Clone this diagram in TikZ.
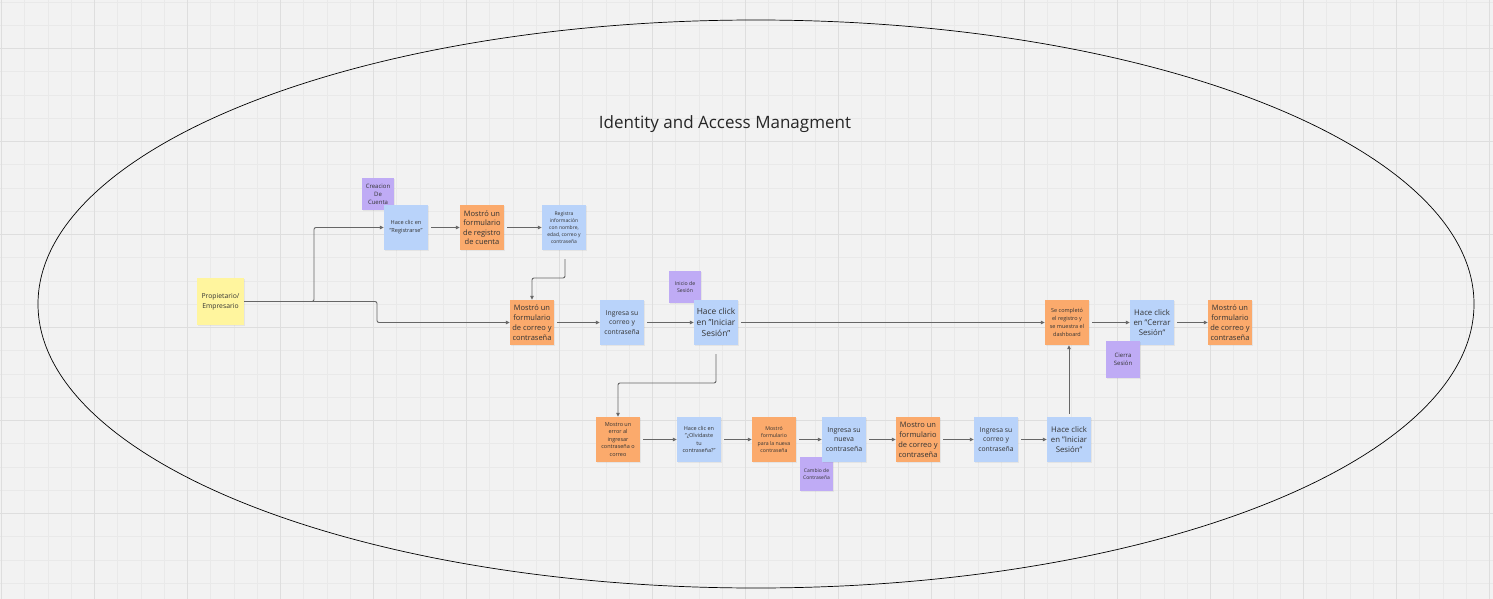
\documentclass[tikz,border=0pt]{standalone}
\usepackage{fontspec}
\setmainfont{Open Sans}
\usetikzlibrary{arrows.meta,shadows}
\definecolor{bgc}{HTML}{F2F2F2}
\definecolor{gmin}{HTML}{E9E9E9}
\definecolor{gmaj}{HTML}{DEDEDE}
\definecolor{sblue}{HTML}{B9D3FA}
\definecolor{sorange}{HTML}{FBAA6C}
\definecolor{syellow}{HTML}{FFF59E}
\definecolor{spurple}{HTML}{BFABF5}
\definecolor{txt}{HTML}{333333}
\definecolor{lnc}{HTML}{666666}
\tikzset{
  sticky/.style={minimum width=44pt, minimum height=45pt, inner sep=0pt, align=center, text=txt,
    drop shadow={opacity=0.12, shadow xshift=0.6pt, shadow yshift=-1.2pt}},
  bl/.style={sticky, fill=sblue},
  og/.style={sticky, fill=sorange},
  yl/.style={sticky, fill=syellow, minimum width=47pt, minimum height=47pt},
  pu/.style={sticky, fill=spurple, minimum width=32pt, minimum height=32pt},
  arr/.style={draw=lnc, line width=0.9pt, rounded corners=2pt, shorten <=3pt,
    -{Triangle[length=4pt,width=3.5pt]}},
}
\newcommand\fz[2]{\fontsize{#1}{#2}\selectfont}
\newcommand\dq{\symbol{34}}
\begin{document}
\begin{tikzpicture}[x=1pt,y=-1pt]
\useasboundingbox (0,0) rectangle (1493,599);
\fill[bgc] (0,0) rectangle (1493,599);
% grid
\foreach \i in {0,...,64} {
  \draw[gmin, line width=0.7pt] (1.5+\i*23.25,0) -- (1.5+\i*23.25,599);
}
\foreach \i in {0,...,26} {
  \draw[gmin, line width=0.7pt] (0,2+\i*23.25) -- (1493,2+\i*23.25);
}
\foreach \i in {0,...,16} {
  \draw[gmaj, line width=0.9pt] (1.5+\i*93,0) -- (1.5+\i*93,599);
}
\foreach \i in {0,...,6} {
  \draw[gmaj, line width=0.9pt] (0,48.5+\i*93) -- (1493,48.5+\i*93);
}
% boundary ellipse
\draw[black, line width=0.7pt] (756,304) ellipse [x radius=718, y radius=284];
\node[text=black!85, font=\fontsize{17}{20}\selectfont] (title) at (725,124) {Identity and Access Managment};

% top row
\node[pu, font=\fz{6}{8}] (pcrea) at (378,194) {Creacion\\De\\Cuenta};
\node[bl, font=\fz{5.6}{8}] (hreg) at (406,227.5) {Hace clic en\\\dq Registrarse\dq};
\node[og, font=\fz{7.5}{9.4}] (mreg) at (482,227.5) {Mostró un\\formulario\\de registro\\de cuenta};
\node[bl, font=\fz{5}{7}] (reg) at (564,227.5) {Registra\\información\\con nombre,\\edad, correo y\\contraseña};

% middle row
\node[yl, font=\fz{6.8}{9.7}] (prop) at (220.5,301.5) {Propietario/\\Empresario};
\node[og, font=\fz{7.5}{10}] (mf1) at (532,322.5) {Mostró un\\formulario\\de correo y\\contraseña};
\node[bl, font=\fz{6.8}{9.3}] (ing1) at (622,322.5) {Ingresa su\\correo y\\contraseña};
\node[pu, font=\fz{5.2}{7.7}] (pini) at (685,287) {Inicio de\\Sesión};
\node[bl, font=\fz{8.4}{10.7}] (hc1) at (716,322.5) {Hace click\\en \dq Iniciar\\Sesión\dq};
\node[og, font=\fz{5.5}{7.8}] (sc) at (1067,322.5) {Se completó\\el registro y\\se muestra el\\dashboard};
\node[bl, font=\fz{7.8}{10}] (cerr) at (1152,322.5) {Hace click\\en \dq Cerrar\\Sesión\dq};
\node[pu, font=\fz{6}{8.3}, minimum width=34pt, minimum height=37pt] (pcier) at (1123,359.5) {Cierra\\Sesión};
\node[og, font=\fz{7.5}{10}] (mf3) at (1230,322.5) {Mostró un\\formulario\\de correo y\\contraseña};

% bottom row
\node[og, font=\fz{5.5}{7.5}] (err) at (618,439.5) {Mostro un\\error al\\ingresar\\contraseña o\\correo};
\node[bl, font=\fz{5.5}{7.5}] (olv) at (699,439.5) {Hace clic en\\\dq¿Olvidaste\\tu\\contraseña?\dq};
\node[og, font=\fz{5.2}{7.5}] (mnc) at (774,439.5) {Mostró\\formulario\\para la nueva\\contraseña};
\node[pu, font=\fz{5}{6.7}, minimum width=33pt, minimum height=34pt] (pcamb) at (816.5,474) {Cambio de\\Contraseña};
\node[bl, font=\fz{7}{9.5}] (ingn) at (844,439.5) {Ingresa su\\nueva\\contraseña};
\node[og, font=\fz{7.5}{10}] (mf2) at (918,439.5) {Mostro un\\formulario\\de correo y\\contraseña};
\node[bl, font=\fz{6.8}{9.5}] (ing2) at (996,439.5) {Ingresa su\\correo y\\contraseña};
\node[bl, font=\fz{7.8}{10.3}] (hc2) at (1069,439.5) {Hace click\\en \dq Iniciar\\Sesión\dq};

% connectors
\coordinate (xa) at (314,0);
\coordinate (xb) at (377,0);
\draw[arr, shorten <=0pt] (prop.east) -- (prop.east -| xa) |- (hreg.west);
\draw[arr, shorten <=0pt] (prop.east) -- (prop.east -| xb) |- (mf1.west);
\draw[arr] (hreg.east) -- (mreg.west);
\draw[arr] (mreg.east) -- (reg.west);
\coordinate (c1) at (565,278);
\draw[arr] ([xshift=1pt,yshift=-6pt]reg.south) |- (c1) -| (mf1.north);
\draw[arr] (mf1.east) -- (ing1.west);
\draw[arr] (ing1.east) -- (hc1.west);
\draw[arr] (hc1.east) -- (sc.west);
\coordinate (c2) at (716,383);
\draw[arr] ([yshift=-6pt]hc1.south) |- (c2) -| (err.north);
\draw[arr] (err.east) -- (olv.west);
\draw[arr] (olv.east) -- (mnc.west);
\draw[arr] (mnc.east) -- (ingn.west);
\draw[arr] (ingn.east) -- (mf2.west);
\draw[arr] (mf2.east) -- (ing2.west);
\draw[arr] (ing2.east) -- (hc2.west);
\draw[arr] (hc2.north) -- (hc2.north |- sc.south);
\draw[arr] (sc.east) -- (cerr.west);
\draw[arr] (cerr.east) -- (mf3.west);
\end{tikzpicture}
\end{document}
